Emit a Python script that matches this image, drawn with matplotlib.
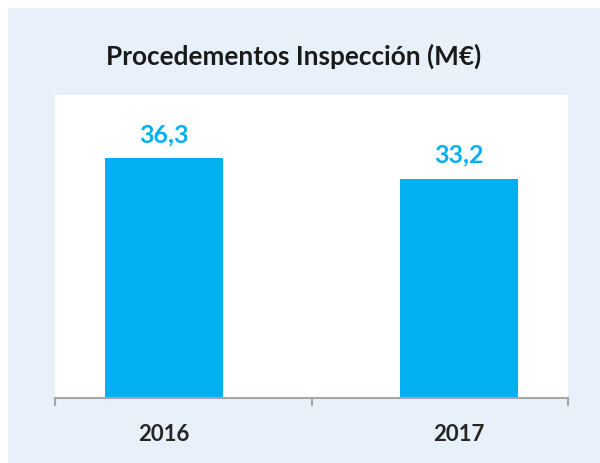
import matplotlib
matplotlib.use('Agg')
import matplotlib.pyplot as plt
from matplotlib.patches import Rectangle

years = ['2016', '2017']
values = [36.3, 33.2]
value_labels = ['36,3', '33,2']

BLUE = '#00B0F0'
BG = '#E8F0FA'
GREY = '#A6A6A6'

plt.rcParams['font.family'] = ['Lato', 'DejaVu Sans']

fig = plt.figure(figsize=(6, 4.63), dpi=100)
fig.patches.append(Rectangle((8 / 600, 0), 1, 1 - 8 / 463, transform=fig.transFigure,
                             facecolor=BG, edgecolor='none', zorder=-10))

ax = fig.add_axes([55 / 600, 1 - 398 / 463, 513 / 600, 303 / 463])
ax.set_facecolor('white')

xs = list(range(len(years)))
ax.bar(xs, values, width=0.4, color=BLUE, zorder=2)
for x, v, lab in zip(xs, values, value_labels):
    ax.annotate(lab, (x, v), xytext=(0, 11.5), textcoords='offset points',
                ha='center', va='baseline', color=BLUE, fontsize=18, fontweight='bold')

ax.set_xlim(-0.37, 1.37)
ax.set_ylim(0, 45.9)
ax.set_yticks([])
for s in ['top', 'right', 'left']:
    ax.spines[s].set_visible(False)
ax.spines['bottom'].set_color(GREY)
ax.spines['bottom'].set_linewidth(1.5)

ax.set_xticks([-0.37, 0.5, 1.37])
ax.set_xticklabels([])
ax.tick_params(axis='x', direction='out', length=6, width=1.5, color=GREY)
for x, y in zip(xs, years):
    ax.text(x, -0.122, y, transform=ax.get_xaxis_transform(), ha='center', va='center',
            fontsize=16, fontweight='bold', color='#262626')

fig.text(293.5 / 600, 1 - 64.3 / 463, 'Procedementos Inspección (M€)', ha='center', va='baseline',
         fontsize=18.8, fontweight='bold', color='#1a1a1a')

fig.savefig('out.png', dpi=100)
